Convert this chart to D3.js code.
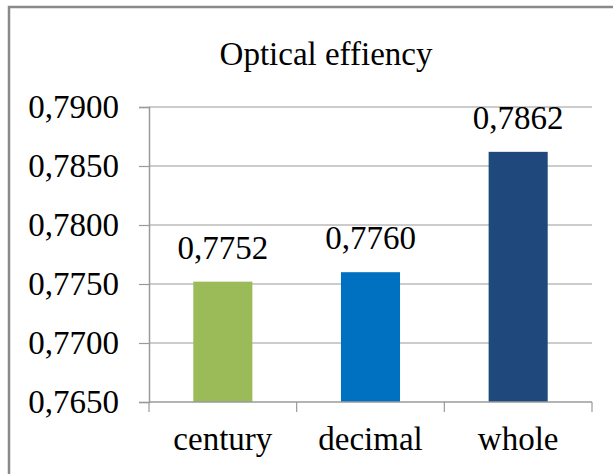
<!DOCTYPE html>
<html>
<head>
<meta charset="utf-8">
<script src="https://cdn.jsdelivr.net/npm/d3@7/dist/d3.min.js"></script>
<style>
  html, body { margin: 0; padding: 0; background: #fff; }
</style>
</head>
<body>
<svg id="chart" width="613" height="474"></svg>
<script>
// Chart data
const categories = ["century", "decimal", "whole"];
const values = [0.7752, 0.7760, 0.7862];
const barColors = ["#9BBB59", "#0070C0", "#1F497D"];
const yTicks = [0.765, 0.770, 0.775, 0.780, 0.785, 0.790];
const title = "Optical effiency";

const FONT = "'Liberation Serif', Tinos, 'Times New Roman', serif";
const FS = 33;

const svg = d3.select("#chart");
const W = 613, H = 474;
const margin = { left: 149, right: 21, top: 107, bottom: 72 };

// Outer chart frame
svg.append("rect")
  .attr("x", 9).attr("y", 7)
  .attr("width", W + 20).attr("height", H + 20)
  .attr("fill", "#fff")
  .attr("stroke", "#8a8a8a")
  .attr("stroke-width", 2.5);

const fmt = v => d3.format(".4f")(v).replace(".", ",");

const x = d3.scaleBand()
  .domain(categories)
  .range([margin.left, W - margin.right])
  .paddingInner(0.6)
  .paddingOuter(0.3);

const y = d3.scaleLinear()
  .domain([0.765, 0.790])
  .range([H - margin.bottom, margin.top]);

// Horizontal gridlines
svg.append("g")
  .selectAll("line")
  .data(yTicks.slice(1))
  .join("line")
  .attr("x1", margin.left).attr("x2", W - margin.right)
  .attr("y1", d => y(d)).attr("y2", d => y(d))
  .attr("stroke", "#9a9a9a")
  .attr("stroke-width", 1.2);

// Bars
svg.append("g")
  .selectAll("rect")
  .data(values)
  .join("rect")
  .attr("x", (d, i) => x(categories[i]))
  .attr("width", x.bandwidth())
  .attr("y", d => y(d))
  .attr("height", d => y(0.765) - y(d))
  .attr("fill", (d, i) => barColors[i]);

// Value labels above bars
svg.append("g")
  .selectAll("text")
  .data(values)
  .join("text")
  .attr("x", (d, i) => x(categories[i]) + x.bandwidth() / 2)
  .attr("y", d => y(d) - 23)
  .attr("text-anchor", "middle")
  .style("font-family", FONT)
  .style("font-size", FS + "px")
  .attr("fill", "#000")
  .text(d => fmt(d));

// Y axis
const yAxis = d3.axisLeft(y)
  .tickValues(yTicks)
  .tickSize(10)
  .tickPadding(20)
  .tickFormat(fmt);
const gy = svg.append("g")
  .attr("transform", `translate(${margin.left},0)`)
  .call(yAxis);
gy.select(".domain").attr("stroke", "#9a9a9a").attr("stroke-width", 1.5);
gy.selectAll(".tick line").attr("stroke", "#9a9a9a").attr("stroke-width", 1.2);
gy.selectAll(".tick text")
  .attr("fill", "#000")
  .style("font-family", FONT)
  .style("font-size", FS + "px");

// X axis: category boundaries as ticks
const gx = svg.append("g")
  .attr("transform", `translate(0,${H - margin.bottom})`);
gx.append("line")
  .attr("x1", margin.left).attr("x2", W - margin.right)
  .attr("stroke", "#9a9a9a").attr("stroke-width", 1.5);
const bounds = d3.range(categories.length + 1)
  .map(i => margin.left + i * x.step());
gx.selectAll("line.b")
  .data(bounds)
  .join("line")
  .attr("class", "b")
  .attr("x1", d => d).attr("x2", d => d)
  .attr("y1", 0).attr("y2", 10)
  .attr("stroke", "#9a9a9a").attr("stroke-width", 1.2);
gx.selectAll("text")
  .data(categories)
  .join("text")
  .attr("x", d => x(d) + x.bandwidth() / 2)
  .attr("y", 48)
  .attr("text-anchor", "middle")
  .style("font-family", FONT)
  .style("font-size", FS + "px")
  .attr("fill", "#000")
  .text(d => d);

// Title
svg.append("text")
  .attr("x", 326)
  .attr("y", 65)
  .attr("text-anchor", "middle")
  .style("font-family", FONT)
  .style("font-size", FS + "px")
  .attr("fill", "#000")
  .text(title);
</script>
</body>
</html>
